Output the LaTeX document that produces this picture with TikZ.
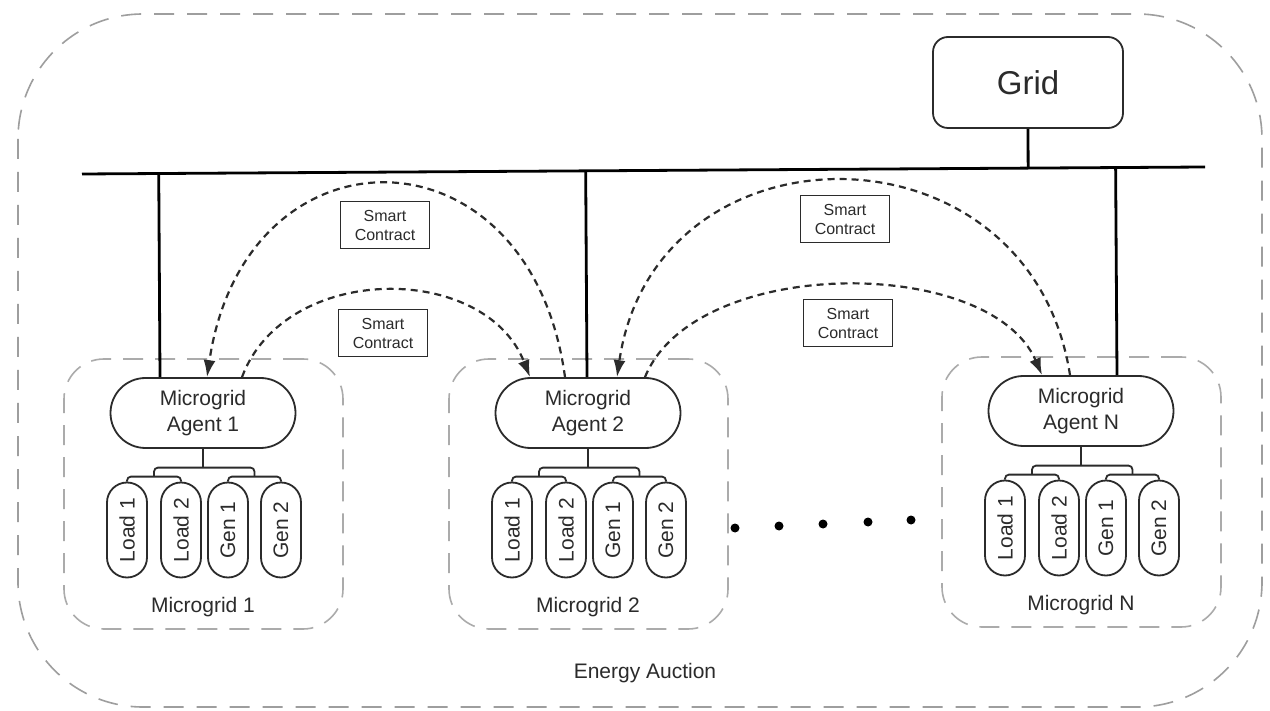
\documentclass[tikz,border=0pt]{standalone}
\usepackage{fontspec}
\setmainfont{Liberation Sans}
\usetikzlibrary{arrows.meta,calc}
\definecolor{ink}{HTML}{2B2B2B}
\definecolor{dashgray}{HTML}{ABABAB}
\definecolor{outergray}{HTML}{9E9E9E}

\tikzset{
  agent/.style={draw=ink, line width=1.8pt, rounded corners=35pt, minimum width=185pt,
    minimum height=70pt, align=center, font=\fontsize{21}{26}\selectfont, text=ink, inner sep=0pt},
  leaf/.style={draw=ink, line width=1.8pt, rotate=90, rounded corners=20pt, minimum width=95pt,
    minimum height=40pt, font=\fontsize{21}{25}\selectfont, text=ink, inner sep=0pt},
  tree/.style={draw=ink, line width=1.8pt, rounded corners=4pt},
  mgbox/.style={draw=dashgray, line width=1.6pt, dash pattern=on 20pt off 12pt,
    rounded corners=40pt, minimum width=279pt, minimum height=270pt},
  lbl/.style={font=\fontsize{21}{25}\selectfont, text=ink},
  bus/.style={draw=black, line width=2.8pt},
  gridbox/.style={draw=ink, line width=1.8pt, rounded corners=15pt, minimum width=190pt,
    minimum height=91pt, font=\fontsize{33}{40}\selectfont, text=ink},
  contract/.style={draw=ink, line width=1.6pt, minimum width=89pt, minimum height=47pt,
    align=center, font=\fontsize{16}{19}\selectfont, text=ink, inner sep=0pt},
  flow/.style={draw=ink, line width=2.2pt, dash pattern=on 7pt off 5pt,
    -{Latex[length=17pt,width=12pt]}},
  auction/.style={draw=outergray, line width=1.6pt, dash pattern=on 20pt off 13pt,
    rounded corners=125pt},
}

% one microgrid: #1 name, #2,#3 agent centre, #4 index shown in the labels
\newcommand{\mgcluster}[4]{%
  \node[mgbox] (#1-box) at (#2+0.5,#3+81) {};
  \node[agent] (#1) at (#2,#3) {Microgrid\\Agent #4};
  \node[leaf] (#1-1) at ($(#1)+(-76,117)$) {Load 1};
  \node[leaf] (#1-2) at ($(#1)+(-22,117)$) {Load 2};
  \node[leaf] (#1-3) at ($(#1)+(25,117)$) {Gen 1};
  \node[leaf] (#1-4) at ($(#1)+(78,117)$) {Gen 2};
  \draw[tree] (#1-1.east) -- ++(0,-5) -| (#1-2.east);
  \draw[tree] (#1-3.east) -- ++(0,-5) -| (#1-4.east);
  \coordinate (#1-L) at ($(#1-1.east)!.5!(#1-2.east)+(0,-5)$);
  \coordinate (#1-R) at ($(#1-3.east)!.5!(#1-4.east)+(0,-5)$);
  \coordinate (#1-T) at ($(#1-L)+(0,-9)$);
  \draw[tree] (#1-L) -- (#1-T) -| (#1-R);
  \draw[tree] (#1.south) -- (#1.south |- #1-T);
  \node[lbl] (#1-name) at ($(#1)+(0,194)$) {Microgrid #4};
}

\begin{document}
\begin{tikzpicture}[x=1pt,y=-1pt]
  \fill[white] (0,0) rectangle (1270,711);
  \useasboundingbox (0,0) rectangle (1270,711);

  % energy auction boundary
  \draw[auction] (18,14) rectangle (1262,707);
  \node[lbl] (auctionlbl) at (645,673) {Energy Auction};

  % microgrids
  \mgcluster{a1}{203}{413}{1}
  \mgcluster{a2}{588}{413}{2}
  \mgcluster{aN}{1081}{411}{N}

  % grid and bus
  \node[gridbox] (grid) at (1028,82.5) {Grid};
  \coordinate (busL) at (82,174);
  \coordinate (busR) at (1205,167);
  \draw[bus] (busL) -- (busR);
  \draw[bus] (grid.south) -- ($(busL)!(grid.south)!(busR)$);
  \coordinate (a1top) at ([xshift=-43pt]a1.north);
  \coordinate (a2top) at ([xshift=-1pt]a2.north);
  \coordinate (aNtop) at ([xshift=36pt]aN.north);
  \draw[bus] (a1top) -- ($(busL)!(a1top)!(busR)$);
  \draw[bus] (a2top) -- ($(busL)!(a2top)!(busR)$);
  \draw[bus] (aNtop) -- ($(busL)!(aNtop)!(busR)$);

  % smart contracts between agents
  \node[contract] (sc1) at (385,225) {Smart\\Contract};
  \node[contract] (sc2) at (383,333) {Smart\\Contract};
  \node[contract] (sc3) at (845,219) {Smart\\Contract};
  \node[contract] (sc4) at (848,323) {Smart\\Contract};

  \draw[flow] ([xshift=-23pt]a2.north) .. controls (530,120) and (245,120) .. ([xshift=4pt]a1.north);
  \draw[flow] ([xshift=39pt]a1.north) .. controls (285,262) and (485,262) .. ([xshift=-58pt]a2.north);
  \draw[flow] ([xshift=-11pt]aN.north) .. controls (1030,116) and (655,116) .. ([xshift=29pt]a2.north);
  \draw[flow] ([xshift=57pt]a2.north) .. controls (695,255) and (990,255) .. ([xshift=-39pt]aN.north);

  % ellipsis between microgrid 2 and N
  \foreach \px/\py in {735/528, 779/526, 823/524, 868/522, 911/520}
    \fill[black] (\px,\py) circle[radius=4.5pt];
\end{tikzpicture}
\end{document}
